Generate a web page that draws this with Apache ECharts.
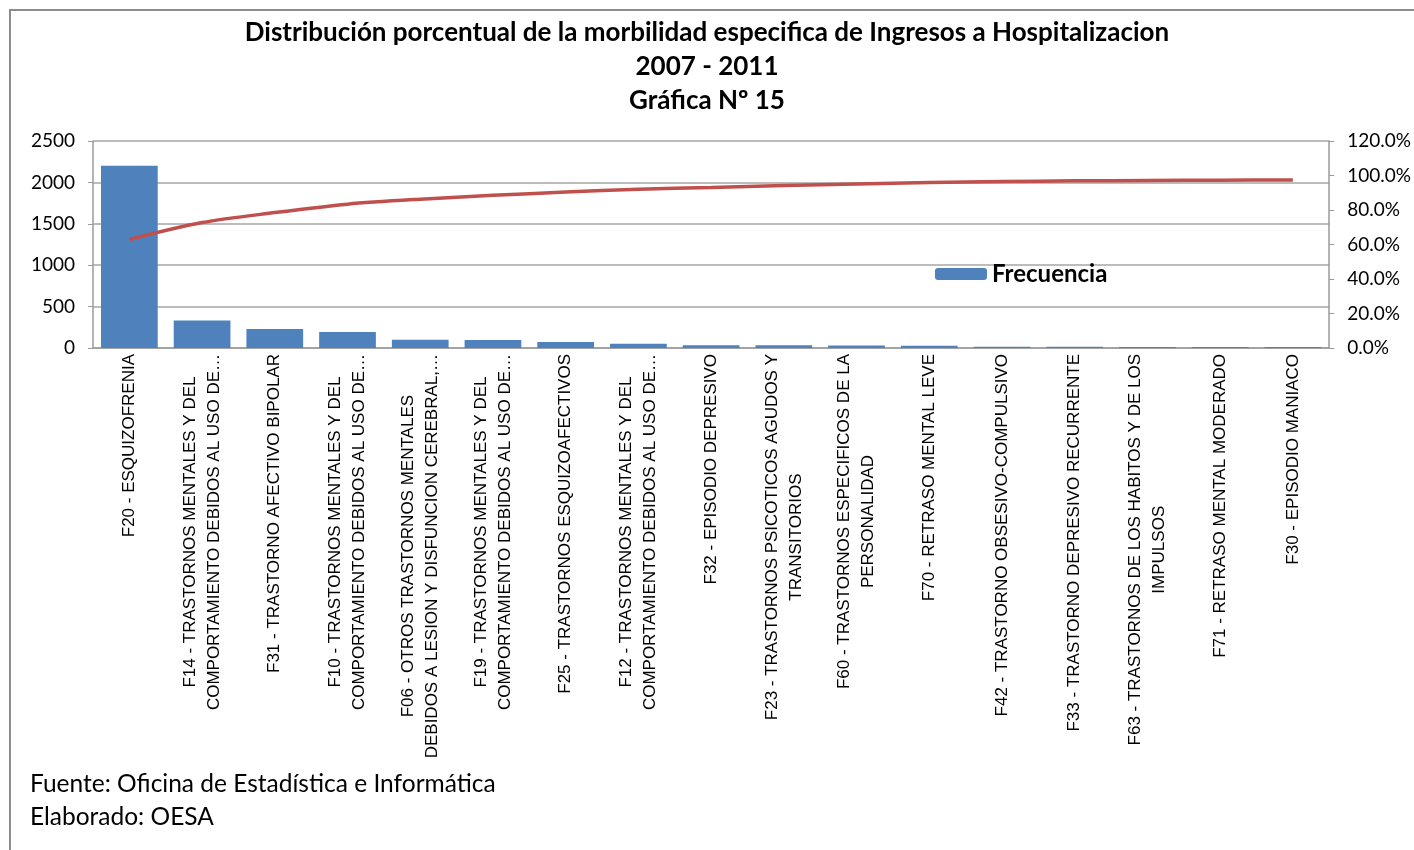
<!DOCTYPE html>
<html>
<head>
<meta charset="utf-8">
<script src="https://cdn.jsdelivr.net/npm/echarts@6/dist/echarts.min.js"></script>
<style>
    html, body { margin: 0; padding: 0; background: #fff; }
    #chart { width: 1414px; height: 850px; }
</style>
</head>
<body>
<div id="chart"></div>
<script>
// categorias (diagnosticos)
var categorias = [
    "F20 - ESQUIZOFRENIA",
    "F14 - TRASTORNOS MENTALES Y DEL\nCOMPORTAMIENTO DEBIDOS AL USO DE…",
    "F31 - TRASTORNO AFECTIVO BIPOLAR",
    "F10 - TRASTORNOS MENTALES Y DEL\nCOMPORTAMIENTO DEBIDOS AL USO DE…",
    "F06 - OTROS TRASTORNOS MENTALES\nDEBIDOS A LESION Y DISFUNCION CEREBRAL,…",
    "F19 - TRASTORNOS MENTALES Y DEL\nCOMPORTAMIENTO DEBIDOS AL USO DE…",
    "F25 - TRASTORNOS ESQUIZOAFECTIVOS",
    "F12 - TRASTORNOS MENTALES Y DEL\nCOMPORTAMIENTO DEBIDOS AL USO DE…",
    "F32 - EPISODIO DEPRESIVO",
    "F23 - TRASTORNOS PSICOTICOS AGUDOS Y\nTRANSITORIOS",
    "F60 - TRASTORNOS ESPECIFICOS DE LA\nPERSONALIDAD",
    "F70 - RETRASO MENTAL LEVE",
    "F42 - TRASTORNO OBSESIVO-COMPULSIVO",
    "F33 - TRASTORNO DEPRESIVO RECURRENTE",
    "F63 - TRASTORNOS DE LOS HABITOS Y DE LOS\nIMPULSOS",
    "F71 - RETRASO MENTAL MODERADO",
    "F30 - EPISODIO MANIACO"
];

// frecuencia (barras)
var frecuencia = [2200, 332, 228, 192, 100, 98, 72, 52, 34, 32, 30, 28, 15, 14, 13, 12, 11];

// porcentaje acumulado (linea)
var acumulado = [62.9, 72.7, 78.5, 83.4, 86.3, 88.5, 90.4, 92.0, 93.1, 94.2, 95.1, 95.9, 96.5, 96.9, 97.1, 97.3, 97.4];

// ticks de los ejes
var ticksIzq = [0, 500, 1000, 1500, 2000, 2500];
var ticksDer = [0, 20, 40, 60, 80, 100, 120];

var myChart = echarts.init(document.getElementById('chart'));
var option = {
    animation: false,
    title: {
        text: "Distribución porcentual de la morbilidad especifica de Ingresos a Hospitalizacion\n2007 - 2011\nGráfica Nº 15",
        left: "center",
        top: 11,
        textStyle: {
            fontFamily: "Lato",
            fontWeight: "bold",
            fontSize: 26,
            lineHeight: 34,
            color: "#000"
        }
    },
    legend: {
        data: ["Frecuencia"],
        left: 930,
        top: 257,
        itemWidth: 52,
        itemHeight: 12,
        itemGap: 4,
        textStyle: {
            fontFamily: "Lato",
            fontWeight: "bold",
            fontSize: 24,
            color: "#000"
        }
    },
    grid: {
        left: 93,
        right: 82,
        top: 141,
        bottom: 502
    },
    xAxis: [
        {
            type: "category",
            data: categorias,
            axisLine: { lineStyle: { color: "#9a9a9a", width: 1.5 } },
            axisTick: { show: false },
            axisLabel: {
                rotate: 90,
                interval: 0,
                margin: 6,
                fontFamily: "Liberation Sans",
                fontSize: 17,
                color: "#000",
                formatter: function (v) {
                    return v.split("\n").map(function (l) { return "{c|" + l + "}"; }).join("\n");
                },
                rich: {
                    c: {
                        align: "center",
                        fontFamily: "Liberation Sans",
                        fontSize: 17,
                        lineHeight: 24,
                        color: "#000"
                    }
                }
            }
        }
    ],
    yAxis: [
        {
            type: "value",
            min: ticksIzq[0],
            max: ticksIzq[ticksIzq.length - 1],
            interval: 500,
            axisLine: { show: true, lineStyle: { color: "#9a9a9a", width: 1.5 } },
            axisTick: { show: true, length: 5, lineStyle: { color: "#9a9a9a" } },
            axisLabel: {
                margin: 18,
                fontFamily: "Lato",
                fontSize: 19,
                color: "#000",
                formatter: function (v) { return String(v); }
            },
            splitLine: { lineStyle: { color: "#a6a6a6", width: 1.5 } }
        },
        {
            type: "value",
            min: ticksDer[0],
            max: ticksDer[ticksDer.length - 1],
            interval: 20,
            position: "right",
            axisLine: { show: true, lineStyle: { color: "#9a9a9a", width: 1.5 } },
            axisTick: { show: true, length: 5, lineStyle: { color: "#9a9a9a" } },
            axisLabel: {
                margin: 18,
                fontFamily: "Lato",
                fontSize: 19,
                color: "#000",
                formatter: function (v) { return v.toFixed(1) + "%"; }
            },
            splitLine: { show: false }
        }
    ],
    series: [
        {
            name: "Frecuencia",
            type: "bar",
            data: frecuencia,
            barCategoryGap: "22%",
            itemStyle: { color: "#4f81bd" }
        },
        {
            name: "Acumulado",
            type: "line",
            yAxisIndex: 1,
            data: acumulado,
            smooth: 0.3,
            symbol: "none",
            lineStyle: { color: "#c0504d", width: 3.5 }
        }
    ],
    graphic: [
        {
            type: "rect",
            shape: { x: 10, y: 10, width: 1420, height: 860 },
            style: { fill: null, stroke: "#8c8c8c", lineWidth: 2 },
            silent: true
        },
        {
            type: "text",
            left: 30,
            top: 768,
            style: {
                text: "Fuente: Oficina de Estadística e Informática\nElaborado: OESA",
                fontFamily: "Lato",
                fontSize: 24.5,
                lineHeight: 33,
                fill: "#000"
            }
        }
    ]
};
myChart.setOption(option);
</script>
</body>
</html>
